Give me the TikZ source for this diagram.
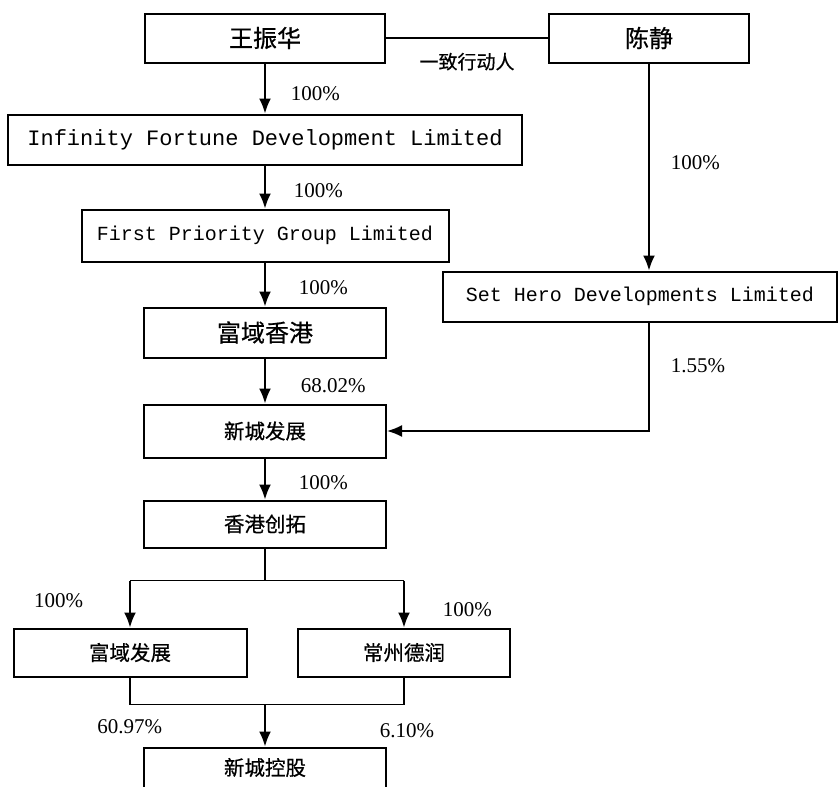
\documentclass[tikz,border=0pt]{standalone}
\usepackage{fontspec}
\setmainfont{Liberation Serif}
\setmonofont{Liberation Mono}
\newfontfamily\cjk[FakeBold=0.6]{Noto Sans CJK SC}
\usepackage{tikz}
\usetikzlibrary{arrows.meta,positioning}

\begin{document}
\begin{tikzpicture}[
    x=1pt, y=1pt,
    person/.style={rectangle, draw, line width=2pt, minimum width=240pt, minimum height=49pt, font=\cjk\fontsize{24}{28}\selectfont},
    firm/.style={rectangle, draw, line width=2pt, minimum height=50pt, font=\ttfamily\fontsize{20}{24}\selectfont},
    corp/.style={rectangle, draw, line width=2pt, minimum width=242pt, minimum height=49pt, font=\cjk\fontsize{20.5}{24}\selectfont},
    pct/.style={font=\fontsize{21}{25}\selectfont, inner sep=0pt},
    note/.style={font=\cjk\fontsize{19}{23}\selectfont, inner sep=0pt},
    arrow/.style={line width=1.8pt, -{Latex[length=15pt,width=12pt]}},
    link/.style={line width=1.8pt}
]
    \useasboundingbox (0,0) rectangle (839,-787);

    % Shareholders
    \node[person] (wzh) at (265,-38) {王振华};
    \node[person, minimum width=200pt, right=162pt of wzh] (cj) {陈静};

    % Left chain
    \node[firm, minimum width=514pt, font=\ttfamily\fontsize{22}{26}\selectfont, below=50pt of wzh] (ifd) {Infinity Fortune Development Limited};
    \node[firm, minimum width=367pt, minimum height=52pt, below=43pt of ifd] (fpg) {First Priority Group Limited};
    \node[person, minimum width=242pt, minimum height=50pt, below=44pt of fpg] (fyhk) {富域香港};
    \node[corp, minimum height=53pt, below=45pt of fyhk] (xcfz) {新城发展};
    \node[corp, minimum height=47pt, below=41pt of xcfz] (hkct) {香港创拓};

    % Subsidiaries
    \node[corp, minimum width=233pt, minimum height=48pt, below=79pt of hkct, xshift=-135pt] (fyfz) {富域发展};
    \node[corp, minimum width=212pt, minimum height=48pt, below=79pt of hkct, xshift=139pt] (czdr) {常州德润};
    \node[corp, minimum height=40pt, below=198pt of hkct] (xckg) {新城控股};

    % Right chain
    \node[firm, minimum width=394pt, below=207pt of cj, xshift=-9pt] (sh) {Set Hero Developments Limited};

    % Acting in concert
    \draw[link] (wzh) -- node[note, below=14pt] {一致行动人} (cj);

    % Holdings
    \draw[arrow] (wzh) -- node[pct, right=25pt, pos=0.6] {100\%} (ifd);
    \draw[arrow] (ifd) -- node[pct, right=28pt, pos=0.58] {100\%} (fpg);
    \draw[arrow] (fpg) -- node[pct, right=33pt, pos=0.58] {100\%} (fyhk);
    \draw[arrow] (fyhk) -- node[pct, right=35pt, pos=0.6] {68.02\%} (xcfz);
    \draw[arrow] (xcfz) -- node[pct, right=33pt, pos=0.58] {100\%} (hkct);

    % Split to subsidiaries
    \draw[link] (hkct.south) -- ++(0,-32) coordinate (split);
    \draw[link] (split -| fyfz) -- (split -| czdr);
    \draw[arrow] (split -| fyfz) -- node[pct, left=46pt, pos=0.43] {100\%} (fyfz);
    \draw[arrow] (split -| czdr) -- node[pct, right=38pt, pos=0.63] {100\%} (czdr);

    % Merge into 新城控股
    \draw[link] (fyfz.south) -- ++(0,-27) coordinate (merge) -| (czdr.south);
    \draw[arrow] (merge -| xckg) -- node[pct, left=102pt, pos=0.53] {60.97\%}
        node[pct, right=114pt, pos=0.63] {6.10\%} (xckg);

    % 陈静 side
    \draw[arrow] (cj) -- node[pct, right=21pt, pos=0.48] {100\%} (cj.south |- sh.north);
    \draw[arrow] (cj.south |- sh.south) |- node[pct, right=21pt, pos=0.2] {1.55\%} (xcfz);
\end{tikzpicture}
\end{document}
